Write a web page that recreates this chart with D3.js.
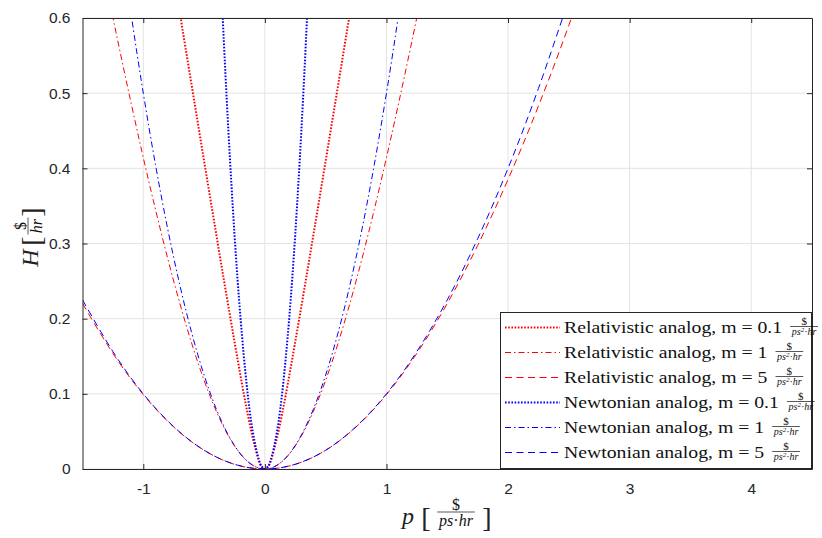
<!DOCTYPE html>
<html>
<head>
<meta charset="utf-8">
<script src="https://cdn.jsdelivr.net/npm/d3@7"></script>
<style>
html,body{margin:0;padding:0;background:#fff;}
svg{display:block;}
</style>
</head>
<body>
<svg id="chart" width="822" height="538"></svg>
<script>
// ---- data ----
const xTicks = [-1, 0, 1, 2, 3, 4];
const yTicks = [0, 0.1, 0.2, 0.3, 0.4, 0.5, 0.6];
const xTickLabels = ["-1", "0", "1", "2", "3", "4"];
const yTickLabels = ["0", "0.1", "0.2", "0.3", "0.4", "0.5", "0.6"];

const relM01P = [-0.75,-0.7,-0.6,-0.5,-0.4,-0.3,-0.2,-0.15,-0.1,-0.05,-0.025,0,0.025,0.05,0.1,0.15,0.2,0.3,0.4,0.5,0.6,0.7,0.75];
const relM01H = [0.6566,0.6071,0.5083,0.4099,0.3123,0.2162,0.1236,0.0803,0.0414,0.0118,0.0031,0,0.0031,0.0118,0.0414,0.0803,0.1236,0.2162,0.3123,0.4099,0.5083,0.6071,0.6566];

const relM1P = [-1.3,-1.2,-1.1,-1.0,-0.9,-0.8,-0.7,-0.6,-0.5,-0.4,-0.3,-0.2,-0.1,0,0.1,0.2,0.3,0.4,0.5,0.6,0.7,0.8,0.9,1.0,1.1,1.2,1.3];
const relM1H = [0.6401,0.5620,0.4866,0.4142,0.3454,0.2806,0.2207,0.1662,0.1180,0.0770,0.0440,0.0198,0.0050,0,0.0050,0.0198,0.0440,0.0770,0.1180,0.1662,0.2207,0.2806,0.3454,0.4142,0.4866,0.5620,0.6401];

const relM5P = [-1.5,-1.25,-1.0,-0.75,-0.5,-0.25,0,0.25,0.5,0.75,1.0,1.25,1.5,1.75,2.0,2.25,2.5,2.75];
const relM5H = [0.2202,0.1539,0.0990,0.0559,0.0249,0.0062,0,0.0062,0.0249,0.0559,0.0990,0.1539,0.2202,0.2974,0.3852,0.4829,0.5902,0.7064];

const newM01P = [-0.4,-0.35,-0.3,-0.25,-0.2,-0.15,-0.1,-0.05,-0.025,0,0.025,0.05,0.1,0.15,0.2,0.25,0.3,0.35,0.4];
const newM01H = [0.8,0.6125,0.45,0.3125,0.2,0.1125,0.05,0.0125,0.0031,0,0.0031,0.0125,0.05,0.1125,0.2,0.3125,0.45,0.6125,0.8];

const newM1P = [-1.2,-1.1,-1.0,-0.9,-0.8,-0.7,-0.6,-0.5,-0.4,-0.3,-0.2,-0.1,0,0.1,0.2,0.3,0.4,0.5,0.6,0.7,0.8,0.9,1.0,1.1,1.2];
const newM1H = [0.72,0.605,0.5,0.405,0.32,0.245,0.18,0.125,0.08,0.045,0.02,0.005,0,0.005,0.02,0.045,0.08,0.125,0.18,0.245,0.32,0.405,0.5,0.605,0.72];

const newM5P = [-1.5,-1.25,-1.0,-0.75,-0.5,-0.25,0,0.25,0.5,0.75,1.0,1.25,1.5,1.75,2.0,2.25,2.5];
const newM5H = [0.225,0.1563,0.1,0.0563,0.025,0.0063,0,0.0063,0.025,0.0563,0.1,0.1563,0.225,0.3063,0.4,0.5063,0.625];

const seriesNames = ["Relativistic analog, m = 0.1", "Relativistic analog, m = 1", "Relativistic analog, m = 5",
                     "Newtonian analog, m = 0.1", "Newtonian analog, m = 1", "Newtonian analog, m = 5"];
const seriesP = [relM01P, relM1P, relM5P, newM01P, newM1P, newM5P];
const seriesH = [relM01H, relM1H, relM5H, newM01H, newM1H, newM5H];
const seriesColor = ["#ff0000","#ff0000","#ff0000","#0000ff","#0000ff","#0000ff"];
const seriesStyle = ["dot","dashdot","dash","dot","dashdot","dash"];

// ---- layout ----
const svg = d3.select("#chart");
const L = 82.5, R = 812, T = 18, B = 469;
const x = d3.scaleLinear().domain([-1.5, 4.5]).range([L, R]);
const y = d3.scaleLinear().domain([0, 0.6]).range([B, T]);
const axisColor = "#262626";
const serif = "'Liberation Serif', 'DejaVu Serif', serif";

const dash = {dot: "1.6,1.6", dashdot: "6,3,1.5,3", dash: "7,4.5"};
const width = {dot: 2, dashdot: 1, dash: 1};

// grid
const grid = svg.append("g");
grid.selectAll("line.gx").data(xTicks).join("line")
  .attr("x1", d => x(d)).attr("x2", d => x(d)).attr("y1", T).attr("y2", B)
  .attr("stroke", "#e3e3e3").attr("stroke-width", 1);
grid.selectAll("line.gy").data(yTicks).join("line")
  .attr("y1", d => y(d)).attr("y2", d => y(d)).attr("x1", L).attr("x2", R)
  .attr("stroke", "#e3e3e3").attr("stroke-width", 1);

// clip
svg.append("clipPath").attr("id", "clip").append("rect")
  .attr("x", L).attr("y", T).attr("width", R - L).attr("height", B - T);

const line = d3.line().x(d => x(d[0])).y(d => y(d[1])).curve(d3.curveNatural);
const plot = svg.append("g").attr("clip-path", "url(#clip)");
seriesNames.forEach((n, i) => {
  const pts = seriesP[i].map((p, j) => [p, seriesH[i][j]]);
  plot.append("path").datum(pts)
    .attr("d", line).attr("fill", "none")
    .attr("stroke", seriesColor[i])
    .attr("stroke-width", width[seriesStyle[i]])
    .attr("stroke-dasharray", dash[seriesStyle[i]]);
});

// axes (MATLAB style: ticks inside, box)
const axB = d3.axisBottom(x).tickValues(xTicks).tickFormat((d, i) => xTickLabels[i]).tickSizeInner(-5).tickSizeOuter(0).tickPadding(14);
const axL = d3.axisLeft(y).tickValues(yTicks).tickFormat((d, i) => yTickLabels[i]).tickSizeInner(-5).tickSizeOuter(0).tickPadding(12);
const axT = d3.axisTop(x).tickValues(xTicks).tickFormat("").tickSizeInner(-5).tickSizeOuter(0);
const axR = d3.axisRight(y).tickValues(yTicks).tickFormat("").tickSizeInner(-5).tickSizeOuter(0);
function style(g) {
  g.selectAll("path").attr("stroke", axisColor);
  g.selectAll("line").attr("stroke", axisColor);
  g.selectAll("text").attr("fill", axisColor).style("font-family", "'Liberation Sans', Arial, sans-serif").style("font-size", "15.5px");
}
svg.append("g").attr("transform", `translate(0,${B})`).call(axB).call(style);
svg.append("g").attr("transform", `translate(${L},0)`).call(axL).call(style);
svg.append("g").attr("transform", `translate(0,${T})`).call(axT).call(style);
svg.append("g").attr("transform", `translate(${R},0)`).call(axR).call(style);

// fraction helper: cx = center, cy = bar y
function fraction(g, cx, cy, num, den, fs, nfs) {
  nfs = nfs || fs;
  g.append("text").attr("x", cx).attr("y", cy - 2).attr("text-anchor", "middle")
    .style("font-family", serif).style("font-size", nfs + "px").attr("fill", "#111").text(num);
  const dt = g.append("text").attr("x", cx).attr("y", cy + fs * 0.85).attr("text-anchor", "middle")
    .style("font-family", serif).style("font-size", fs + "px").style("font-style", "italic").attr("fill", "#111");
  den.forEach(part => {
    const ts = dt.append("tspan").text(part.t);
    if (part.sup) ts.attr("dy", -fs * 0.35).style("font-size", (fs * 0.7) + "px");
    if (part.after) ts.attr("dy", fs * 0.35);
    if (part.up) ts.style("font-style", "normal");
  });
  const bb = dt.node().getBBox();
  const w = Math.max(bb.width, nfs * 0.6) + 2;
  g.append("line").attr("x1", cx - w / 2).attr("x2", cx + w / 2).attr("y1", cy).attr("y2", cy)
    .attr("stroke", "#111").attr("stroke-width", 0.7);
  return w;
}

// legend
const lg = svg.append("g");
lg.append("rect").attr("x", 500.5).attr("y", 312.5).attr("width", 311).attr("height", 156)
  .attr("fill", "#fff").attr("stroke", axisColor).attr("stroke-width", 1);
const legFrac = [{t: "ps"}, {t: "2", sup: true}, {t: "·", after: true, up: true}, {t: "hr"}];
const stretch = 1.16;
seriesNames.forEach((n, i) => {
  const cy = 327.5 + i * 25;
  lg.append("line").attr("x1", 505).attr("x2", 560).attr("y1", cy).attr("y2", cy)
    .attr("stroke", seriesColor[i]).attr("stroke-width", width[seriesStyle[i]])
    .attr("stroke-dasharray", dash[seriesStyle[i]]);
  const t = lg.append("text").attr("x", 564).attr("y", cy + 5)
    .style("font-family", serif).style("font-size", "17px").attr("fill", "#111").text(n);
  const tw = t.node().getComputedTextLength() * stretch;
  t.attr("textLength", tw).attr("lengthAdjust", "spacingAndGlyphs");
  fraction(lg, 564 + tw + 8 + 14, cy - 1, "$", legFrac, 10, 11);
});

// x label
const xl = svg.append("g");
xl.append("text").attr("x", 408).attr("y", 524).attr("text-anchor", "middle")
  .style("font-family", serif).style("font-style", "italic").style("font-size", "24px").attr("fill", "#222").text("p");
xl.append("text").attr("x", 426).attr("y", 527).attr("text-anchor", "middle")
  .style("font-family", serif).style("font-size", "28px").attr("fill", "#222").text("[");
fraction(xl, 456, 512, "$", [{t: "ps"}, {t: "·", up: true}, {t: "hr"}], 16, 16);
xl.append("text").attr("x", 487).attr("y", 527).attr("text-anchor", "middle")
  .style("font-family", serif).style("font-size", "28px").attr("fill", "#222").text("]");

// y label (rotated)
const yl = svg.append("g").attr("transform", "translate(38,236) rotate(-90)");
yl.append("text").attr("x", -22).attr("y", 0).attr("text-anchor", "middle")
  .style("font-family", serif).style("font-style", "italic").style("font-size", "24px").attr("fill", "#222").text("H");
yl.append("text").attr("x", -5).attr("y", 3).attr("text-anchor", "middle")
  .style("font-family", serif).style("font-size", "28px").attr("fill", "#222").text("[");
fraction(yl, 10, -10, "$", [{t: "hr"}], 16, 16);
yl.append("text").attr("x", 24).attr("y", 3).attr("text-anchor", "middle")
  .style("font-family", serif).style("font-size", "28px").attr("fill", "#222").text("]");
</script>
</body>
</html>
